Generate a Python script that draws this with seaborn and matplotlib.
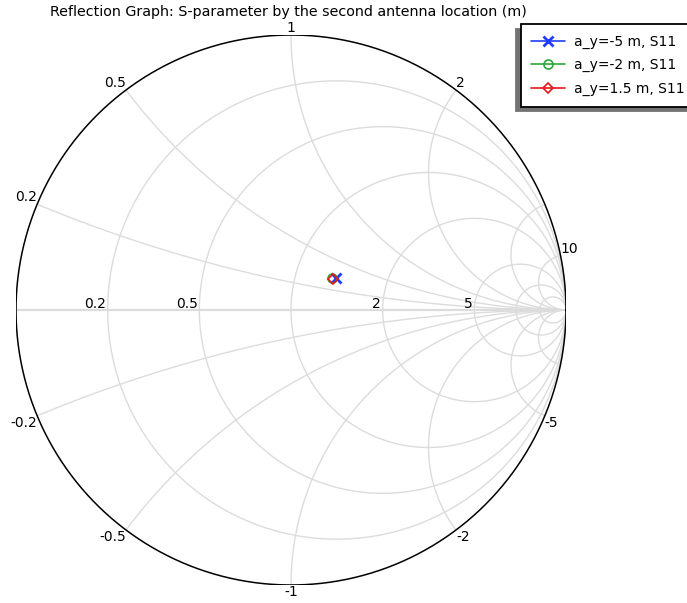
import numpy as np
import pandas as pd
import seaborn as sns
import matplotlib
import matplotlib.pyplot as plt
from matplotlib.patches import Circle

matplotlib.use('Agg')
sns.set_theme(style="white")
plt.rcParams['font.family'] = ['DejaVu Sans']
plt.rcParams['text.color'] = 'black'

# data (reflection coefficient)
series_labels = ["a_y=-5 m, S11", "a_y=-2 m, S11", "a_y=1.5 m, S11"]
gamma_re = [0.162, 0.149, 0.151]
gamma_im = [0.116, 0.117, 0.114]
series_colors = ["#1f3dff", "#2ca83a", "#e8161b"]
series_markers = ["x", "o", "D"]
marker_sizes = [7, 6.5, 4.6]

# smith chart grid
r_grid = [0.2, 0.5, 1, 2, 5, 10, 20]
x_grid = [0.2, 0.5, 1, 2, 5, 10]
r_labels = [0.2, 0.5, 2, 5]
x_labels_upper = [0.2, 0.5, 1, 2, 10]
x_labels_lower = [-0.2, -0.5, -1, -2, -5]

title = "Reflection Graph: S-parameter by the second antenna location (m)"

df = pd.DataFrame({"series": series_labels, "re": gamma_re, "im": gamma_im})

fig = plt.figure(figsize=(6.87, 6.03), dpi=100)
ax = fig.add_axes([16 / 687, 18 / 603, 550 / 687, 550 / 603])

grid_c = "#dcdcdc"
t = np.linspace(0, 2 * np.pi, 1441)
clip = Circle((0, 0), 1, transform=ax.transData)

for r in r_grid:
    c = r / (1 + r)
    rad = 1 / (1 + r)
    ax.plot(c + rad * np.cos(t), rad * np.sin(t), color=grid_c, lw=1.0, zorder=1)

for x in x_grid + [-v for v in x_grid]:
    rad = 1 / abs(x)
    ln, = ax.plot(1 + rad * np.cos(t), 1 / x + rad * np.sin(t),
                  color=grid_c, lw=1.0, zorder=1)
    ln.set_clip_path(clip)

ax.plot([-1, 1], [0, 0], color=grid_c, lw=1.6, zorder=1)
ax.plot(np.cos(t), np.sin(t), color="black", lw=1.1, zorder=2)

for r in r_labels:
    g = (r - 1) / (r + 1)
    ax.text(g - 0.006, 0.009, f"{r:g}", ha="right", va="baseline", fontsize=10)

for x in x_labels_upper + x_labels_lower:
    gx = (x ** 2 - 1) / (x ** 2 + 1)
    gy = 2 * x / (x ** 2 + 1)
    if gx < -0.05:
        ha = "right"
    elif gx > 0.05:
        ha = "left"
    else:
        ha = "center"
    va = "bottom" if x > 0 else "top"
    ax.text(gx, gy, f"{x:g}", ha=ha, va=va, fontsize=10)

for lbl, col, mk, ms in zip(series_labels, series_colors, series_markers, marker_sizes):
    sub = df[df["series"] == lbl]
    kw = dict(markerfacecolor="none", markeredgewidth=1.2) if mk != "x" else dict(markeredgewidth=2)
    sns.lineplot(data=sub, x="re", y="im", color=col, marker=mk,
                 markersize=ms, markeredgecolor=col,
                 linewidth=1.2, label=lbl, ax=ax, zorder=5, **kw)

ax.set_xlim(-1, 1)
ax.set_ylim(-1, 1)
ax.set_aspect("equal")
ax.axis("off")

fig.text(288 / 687, 1 - 12 / 603, title, ha="center", va="center", fontsize=10.3)

leg = ax.legend(loc="upper left", bbox_to_anchor=(521 / 687, 1 - 24 / 603),
                bbox_transform=fig.transFigure, borderaxespad=0, borderpad=0.75,
                fancybox=False, shadow={"ox": -3.3, "oy": -3.3, "color": "0.45", "alpha": 1},
                framealpha=1, edgecolor="black", fontsize=10,
                handlelength=2.45, handletextpad=0.6, labelspacing=0.7)
leg.get_frame().set_linewidth(1.3)

fig.savefig("out.png", dpi=100)
